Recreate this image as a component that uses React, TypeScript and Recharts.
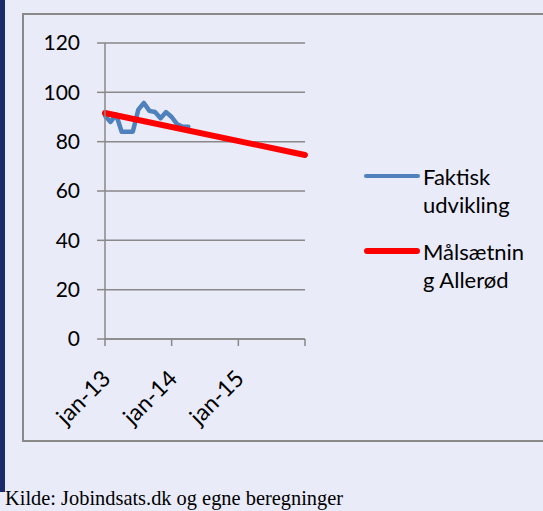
import { CartesianGrid, Line, LineChart, XAxis, YAxis } from "recharts";

const months = [
  "jan-13", "feb-13", "mar-13", "apr-13", "maj-13", "jun-13", "jul-13", "aug-13", "sep-13", "okt-13", "nov-13", "dec-13",
  "jan-14", "feb-14", "mar-14", "apr-14", "maj-14", "jun-14", "jul-14", "aug-14", "sep-14", "okt-14", "nov-14", "dec-14",
  "jan-15", "feb-15", "mar-15", "apr-15", "maj-15", "jun-15", "jul-15", "aug-15", "sep-15", "okt-15", "nov-15", "dec-15",
  "jan-16",
];

// faktisk udvikling, jan-13 .. apr-14
const faktisk = [90.5, 88, 91, 84, 84, 84, 93, 95.7, 92.5, 92, 89.5, 92, 90, 87, 86, 86];

// målsætning: start og slut
const maalStart = 91.6;
const maalSlut = 74.6;

const yTicks = [0, 20, 40, 60, 80, 100, 120];
const xTicks = ["jan-13", "jan-14", "jan-15", "jan-16"];
const xLabels = ["jan-13", "jan-14", "jan-15"];

const data = months.map((m, i) => ({
  mes: m,
  faktisk: i < faktisk.length ? faktisk[i] : null,
  maal: i === 0 ? maalStart : i === months.length - 1 ? maalSlut : null,
}));

const FONT = "Lato, 'Noto Sans', sans-serif";
const GRAY = "#898989";
const BG = "#E9EBF9";

const XTick = (props: any) => {
  const { x, y, payload } = props;
  if (!xLabels.includes(payload.value)) return null;
  return (
    <g transform={`translate(${x + 7},${y + 32})`}>
      <text transform="rotate(-45)" textAnchor="end" fontSize={23} fontFamily={FONT} fill="#000">
        {payload.value}
      </text>
    </g>
  );
};

export default function App() {
  return (
    <div style={{ position: "fixed", left: 0, top: 0, width: 543, height: 511, background: BG, overflow: "hidden" }}>
      <div style={{ position: "absolute", left: 0, top: 0, width: 5, height: 492, background: "#1B2A6B" }} />
      <div
        style={{
          position: "absolute",
          left: 22,
          top: 13,
          width: 560,
          height: 425,
          border: `2px solid ${GRAY}`,
          boxSizing: "content-box",
        }}
      />
      <div style={{ position: "absolute", left: 0, top: 0 }}>
        <LineChart width={543} height={511} data={data} margin={{ top: 43, right: 238, bottom: 0, left: 0 }}>
          <CartesianGrid horizontal vertical={false} stroke={GRAY} strokeWidth={1.5} />
          <XAxis
            dataKey="mes"
            ticks={xTicks}
            interval={0}
            height={172}
            stroke={GRAY}
            strokeWidth={1.5}
            tickSize={7}
            tick={<XTick />}
          />
          <YAxis
            domain={[0, 120]}
            ticks={yTicks}
            width={105}
            stroke={GRAY}
            strokeWidth={1.5}
            tickSize={8}
            tickMargin={17}
            tick={{ fontSize: 21, fontFamily: FONT, fill: "#000" }}
          />
          <Line
            dataKey="faktisk"
            stroke="#4F81BD"
            strokeWidth={4.5}
            dot={false}
            strokeLinejoin="round"
            strokeLinecap="round"
            isAnimationActive={false}
          />
          <Line
            dataKey="maal"
            stroke="#FF0000"
            strokeWidth={6}
            dot={false}
            connectNulls
            strokeLinecap="round"
            isAnimationActive={false}
          />
        </LineChart>
      </div>
      <div style={{ position: "absolute", left: 364, top: 174, width: 56, height: 4, borderRadius: 2, background: "#4F81BD" }} />
      <div style={{ position: "absolute", left: 364, top: 248, width: 56, height: 6, borderRadius: 3, background: "#FF0000" }} />
      <div style={{ position: "absolute", left: 423, top: 163, fontFamily: FONT, fontSize: 22, lineHeight: "28px", color: "#000" }}>
        Faktisk
        <br />
        udvikling
      </div>
      <div style={{ position: "absolute", left: 423, top: 238, fontFamily: FONT, fontSize: 22, lineHeight: "28px", color: "#000" }}>
        Målsætnin
        <br />
        g Allerød
      </div>
      <div
        style={{
          position: "absolute",
          left: 5,
          top: 487,
          fontFamily: "'Liberation Serif', 'Times New Roman', serif",
          fontSize: 20.4,
          color: "#000",
          whiteSpace: "nowrap",
        }}
      >
        Kilde: Jobindsats.dk og egne beregninger
      </div>
    </div>
  );
}
